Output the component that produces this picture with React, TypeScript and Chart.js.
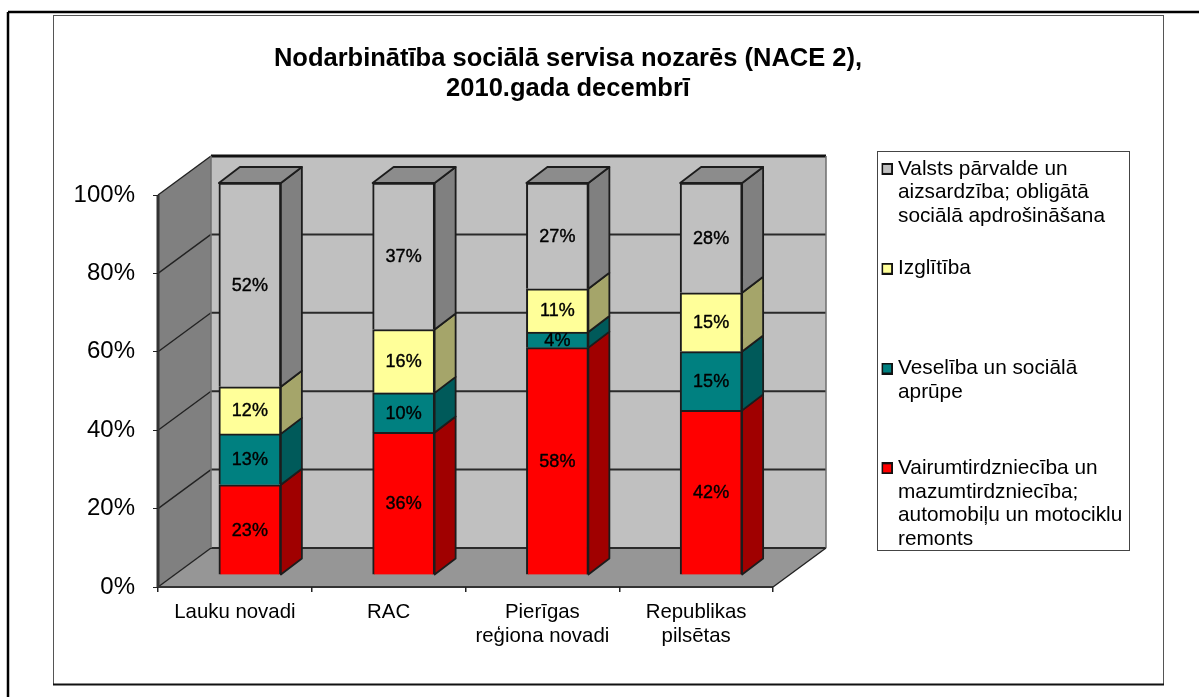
import React, { useEffect, useRef } from "react";
import { Chart, registerables } from "chart.js";

Chart.register(...registerables);

const FONT = "'Liberation Sans', Arial, sans-serif";

const titleLines = ["Nodarbinātība sociālā servisa nozarēs (NACE 2),", "2010.gada decembrī"];
const categories = ["Lauku novadi", "RAC", ["Pierīgas", "reģiona novadi"], ["Republikas", "pilsētas"]];

const trade = [23, 36, 58, 42];
const health = [13, 10, 4, 15];
const education = [12, 16, 11, 15];
const administration = [52, 37, 27, 28];

const tradeLabel = ["Vairumtirdzniecība un", "mazumtirdzniecība;", "automobiļu un motociklu", "remonts"];
const healthLabel = ["Veselība un sociālā", "aprūpe"];
const educationLabel = ["Izglītība"];
const administrationLabel = ["Valsts pārvalde un", "aizsardzība; obligātā", "sociālā apdrošināšana"];

const series = [
  { values: trade, label: tradeLabel, color: "#ff0000", side: "#a00000", top: "#a00000" },
  { values: health, label: healthLabel, color: "#008080", side: "#005a5a", top: "#005a5a" },
  { values: education, label: educationLabel, color: "#ffff99", side: "#a5a56a", top: "#a5a56a" },
  { values: administration, label: administrationLabel, color: "#c0c0c0", side: "#808080", top: "#8c8c8c" },
];

const totals = categories.map((_, i) => series.reduce((sum, s) => sum + s.values[i], 0));
const shareOf = (values: number[]) => values.map((v, i) => (v / totals[i]) * 100);

const DEPTH_X = 53;
const DEPTH_Y = 39;
const BAR_SHIFT_X = 15;
const BAR_SHIFT_Y = 12;
const BAR_DEPTH_X = 21;
const BAR_DEPTH_Y = 16;
const DARK = "#1c1c1c";

function swatch(color: string) {
  const c = document.createElement("canvas");
  c.width = 12;
  c.height = 12;
  const g = c.getContext("2d")!;
  g.fillStyle = "#111111";
  g.fillRect(0, 0, 12, 12);
  g.fillStyle = color;
  g.fillRect(2, 2, 8, 8);
  return c;
}

function poly(ctx: CanvasRenderingContext2D, pts: number[][], fill: string | null, stroke?: string, lw = 1) {
  ctx.beginPath();
  pts.forEach((p, i) => (i ? ctx.lineTo(p[0], p[1]) : ctx.moveTo(p[0], p[1])));
  ctx.closePath();
  if (fill) {
    ctx.fillStyle = fill;
    ctx.fill();
  }
  if (stroke) {
    ctx.strokeStyle = stroke;
    ctx.lineWidth = lw;
    ctx.lineJoin = "round";
    ctx.stroke();
  }
}

function line(ctx: CanvasRenderingContext2D, x0: number, y0: number, x1: number, y1: number, color: string, lw: number) {
  ctx.beginPath();
  ctx.moveTo(x0, y0);
  ctx.lineTo(x1, y1);
  ctx.strokeStyle = color;
  ctx.lineWidth = lw;
  ctx.stroke();
}

const scene3d = {
  id: "scene3d",
  afterLayout(chart: any) {
    chart.titleBlock.left = 168;
    chart.titleBlock.right = 968;
    const lg = chart.legend;
    lg.left = 881.6;
    lg.right = 1129;
    lg.top = 153.5;
    lg.bottom = 560;
    lg.width = 248;
    lg.height = 406;
  },
  beforeDraw(chart: any) {
    const ctx: CanvasRenderingContext2D = chart.ctx;
    const { left, right } = chart.chartArea;
    const y = chart.scales.y;
    const bottom = y.getPixelForValue(0);
    const top = y.getPixelForValue(100);
    ctx.save();
    // frames
    line(ctx, 8, 12, 1199, 12, "#000000", 2.5);
    line(ctx, 8, 12, 8, 697, "#000000", 2.5);
    ctx.strokeStyle = "#555555";
    ctx.lineWidth = 1;
    ctx.strokeRect(53.5, 15.5, 1110, 669);
    line(ctx, 53, 684.5, 1164, 684.5, "#111111", 2);
    // walls
    poly(ctx, [[left, bottom], [left + DEPTH_X, bottom - DEPTH_Y], [left + DEPTH_X, top - DEPTH_Y], [left, top]], "#808080");
    ctx.fillStyle = "#c0c0c0";
    ctx.fillRect(left + DEPTH_X, top - DEPTH_Y, right - left, bottom - top);
    poly(ctx, [[left, bottom], [right, bottom], [right + DEPTH_X, bottom - DEPTH_Y], [left + DEPTH_X, bottom - DEPTH_Y]], "#969696");
    // gridlines through the y scale
    y.ticks.forEach((t: any) => {
      const py = y.getPixelForValue(t.value);
      const heavy = t.value === 100;
      line(ctx, left, py, left + DEPTH_X, py - DEPTH_Y, "#222222", 1.4);
      line(ctx, left + DEPTH_X, py - DEPTH_Y, right + DEPTH_X, py - DEPTH_Y, heavy ? "#111111" : "#2a2a2a", heavy ? 3 : 2);
    });
    line(ctx, left + DEPTH_X, top - DEPTH_Y, left + DEPTH_X, bottom - DEPTH_Y, "#6e6e6e", 1.5);
    line(ctx, left, top, left, bottom, "#333333", 3);
    line(ctx, right + DEPTH_X, top - DEPTH_Y, right + DEPTH_X, bottom - DEPTH_Y, "#6e6e6e", 1.5);
    line(ctx, left, bottom, right, bottom, "#333333", 2);
    line(ctx, right, bottom, right + DEPTH_X, bottom - DEPTH_Y, "#222222", 1.4);
    // legend frame
    ctx.fillStyle = "#ffffff";
    ctx.fillRect(877, 152, 252, 399);
    ctx.strokeStyle = "#444444";
    ctx.lineWidth = 1;
    ctx.strokeRect(877.5, 151.5, 252, 399);
    ctx.restore();
  },
  beforeDatasetsDraw(chart: any) {
    chart.ctx.save();
    chart.ctx.translate(BAR_SHIFT_X, -BAR_SHIFT_Y);
  },
  afterDatasetsDraw(chart: any) {
    const ctx: CanvasRenderingContext2D = chart.ctx;
    const last = chart.data.datasets.length - 1;
    chart.data.datasets.forEach((_: any, di: number) => {
      const s = series[di];
      chart.getDatasetMeta(di).data.forEach((bar: any) => {
        const r = bar.x + bar.width / 2;
        const l = bar.x - bar.width / 2;
        poly(
          ctx,
          [[r, bar.y], [r + BAR_DEPTH_X, bar.y - BAR_DEPTH_Y], [r + BAR_DEPTH_X, bar.base - BAR_DEPTH_Y], [r, bar.base]],
          s.side,
          DARK,
          1.8,
        );
        if (di === last) {
          poly(
            ctx,
            [[l, bar.y], [l + BAR_DEPTH_X, bar.y - BAR_DEPTH_Y], [r + BAR_DEPTH_X, bar.y - BAR_DEPTH_Y], [r, bar.y]],
            s.top,
            DARK,
            1.8,
          );
        }
      });
    });
    ctx.fillStyle = "#000000";
    ctx.strokeStyle = "#000000";
    ctx.lineWidth = 0.4;
    ctx.font = `18px ${FONT}`;
    ctx.textAlign = "center";
    ctx.textBaseline = "middle";
    chart.data.datasets.forEach((_: any, di: number) => {
      chart.getDatasetMeta(di).data.forEach((bar: any, i: number) => {
        const text = `${series[di].values[i]}%`;
        const cy = (bar.y + bar.base) / 2 + 1;
        ctx.fillText(text, bar.x, cy);
        ctx.strokeText(text, bar.x, cy);
      });
    });
    ctx.restore();
  },
};

export default function App() {
  const ref = useRef<HTMLCanvasElement>(null);
  useEffect(() => {
    const chart = new Chart(ref.current!, {
      type: "bar",
      data: {
        labels: categories as any,
        datasets: series.map((s) => ({
          label: s.label.join(" "),
          data: shareOf(s.values),
          backgroundColor: s.color,
          borderColor: DARK,
          borderWidth: 2,
          barThickness: 62,
          stack: "total",
        })),
      },
      options: {
        responsive: false,
        animation: false,
        layout: { padding: { left: 0, right: 226, top: 0, bottom: 0 } },
        plugins: {
          tooltip: { enabled: false },
          title: {
            display: true,
            text: titleLines,
            color: "#000000",
            font: { family: FONT, size: 25.5, weight: "bold", lineHeight: 30 / 25.5 },
            padding: { top: 44, bottom: 91 },
          },
          legend: {
            display: true,
            position: "right",
            align: "start",
            maxWidth: 200,
            maxHeight: 500,
            reverse: true,
            labels: {
              color: "#000000",
              font: { family: FONT, size: 20.8, lineHeight: 23.7 / 20.8 },
              usePointStyle: true,
              pointStyleWidth: 1,
              boxHeight: 12,
              padding: 5,
              generateLabels: () =>
                series.map((s, i) => ({
                  text: [...s.label, "", "", "", ""].slice(0, 4),
                  fillStyle: s.color,
                  strokeStyle: "#111111",
                  lineWidth: 0,
                  pointStyle: swatch(s.color),
                  datasetIndex: i,
                  hidden: false,
                })) as any,
            },
          },
        },
        scales: {
          x: {
            stacked: true,
            offset: true,
            afterFit: (s: any) => {
              s.height = 110;
            },
            grid: {
              display: true,
              offset: true,
              drawOnChartArea: false,
              drawTicks: true,
              tickLength: 5,
              color: "#222222",
              lineWidth: 1.5,
            },
            border: { display: false },
            ticks: {
              color: "#000000",
              font: { family: FONT, size: 20.4, lineHeight: 23.5 / 20.4 },
              padding: 9,
              maxRotation: 0,
              minRotation: 0,
              autoSkip: false,
            },
          },
          y: {
            stacked: true,
            min: 0,
            max: 100,
            afterFit: (s: any) => {
              s.width = 158;
            },
            grid: { display: true, drawOnChartArea: false, drawTicks: true, tickLength: 5, color: "#222222" },
            border: { display: false },
            ticks: {
              stepSize: 20,
              color: "#000000",
              font: { family: FONT, size: 24 },
              padding: 18,
              callback: (v: any) => `${v}%`,
            },
          },
        },
      },
      plugins: [scene3d],
    } as any);
    return () => chart.destroy();
  }, []);
  return (
    <canvas
      ref={ref}
      width={1199}
      height={697}
      style={{ position: "absolute", left: 0, top: 0, display: "block", filter: "blur(0.4px)" }}
    />
  );
}
